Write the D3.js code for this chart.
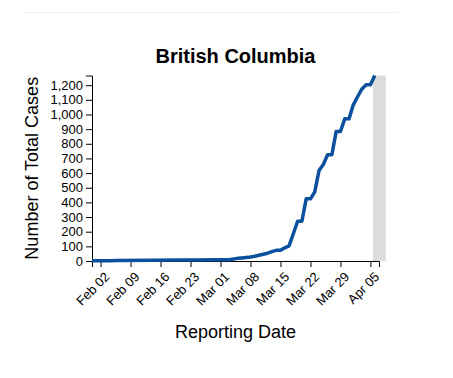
<!DOCTYPE html>
<html>
<head>
<meta charset="utf-8">
<script src="https://cdn.jsdelivr.net/npm/d3@7"></script>
<style>
  body { margin: 0; background: #fff; font-family: Arial, "Liberation Sans", sans-serif; }
  .axis text { font-size: 13px; fill: #000; font-family: Arial, "Liberation Sans", sans-serif; }
  .axis path, .axis line { stroke: #000; }
</style>
</head>
<body>
<div id="chart"></div>
<script>
// fechas y casos acumulados
const dates = [
  "2020-01-31","2020-02-04","2020-02-06","2020-02-14","2020-02-20","2020-02-24","2020-02-29",
  "2020-03-03","2020-03-04","2020-03-05","2020-03-06","2020-03-07","2020-03-08","2020-03-09",
  "2020-03-10","2020-03-11","2020-03-12","2020-03-13","2020-03-14","2020-03-15","2020-03-16",
  "2020-03-17","2020-03-18","2020-03-19","2020-03-20","2020-03-21","2020-03-22","2020-03-23",
  "2020-03-24","2020-03-25","2020-03-26","2020-03-27","2020-03-28","2020-03-29","2020-03-30",
  "2020-03-31","2020-04-01","2020-04-02","2020-04-03","2020-04-04","2020-04-05","2020-04-06"
];
const cases = [
  1, 2, 4, 5, 6, 7, 8,
  9, 13, 18, 21, 24, 27, 32,
  39, 46, 53, 64, 73, 73, 90,
  103, 186, 271, 271, 424, 424, 472,
  617, 659, 725, 725, 884, 884, 970,
  970, 1066, 1121, 1174, 1203, 1203, 1266
];
const xDomain = ["2020-01-31", "2020-04-07"];
const shade = ["2020-04-05T14:00", "2020-04-08T14:00"]; // zona gris
const yTicks = [0,100,200,300,400,500,600,700,800,900,1000,1100,1200];
const title = "British Columbia";

const parse = d3.isoParse;
const data = dates.map((d, i) => ({ date: parse(d), value: cases[i] }));

const width = 453, height = 378;
const margin = { top: 75.5, right: 74, bottom: 117, left: 92 };

const svg = d3.select("#chart")
  .append("svg")
  .attr("width", width)
  .attr("height", height);

// linea gris de arriba
svg.append("line")
  .attr("x1", 25).attr("x2", 398)
  .attr("y1", 12.5).attr("y2", 12.5)
  .attr("stroke", "#eeeeee");

const x = d3.scaleTime()
  .domain(xDomain.map(parse))
  .range([margin.left, width - margin.right]);

const y = d3.scaleLinear()
  .domain([0, d3.max(cases)])
  .range([height - margin.bottom, margin.top]);

svg.append("rect")
  .attr("x", x(parse(shade[0])))
  .attr("width", x(parse(shade[1])) - x(parse(shade[0])))
  .attr("y", y.range()[1])
  .attr("height", y.range()[0] - y.range()[1])
  .attr("fill", "#dcdcdc");

svg.append("g")
  .attr("class", "axis")
  .attr("transform", `translate(${margin.left},0)`)
  .call(d3.axisLeft(y).tickValues(yTicks).tickFormat(d3.format(",")));

svg.append("g")
  .attr("class", "axis")
  .attr("transform", `translate(0,${height - margin.bottom})`)
  .call(d3.axisBottom(x).ticks(d3.timeWeek.every(1)).tickFormat(d3.timeFormat("%b %d")))
  .selectAll("text")
  .style("text-anchor", "end")
  .attr("dx", "-0.4em")
  .attr("transform", "rotate(-45)");

const line = d3.line()
  .x(d => x(d.date))
  .y(d => y(d.value));

svg.append("path")
  .datum(data)
  .attr("fill", "none")
  .attr("stroke", "#0b509c")
  .attr("stroke-width", 3.5)
  .attr("stroke-linejoin", "round")
  .attr("d", line);

svg.append("text")
  .attr("x", (x.range()[0] + x.range()[1]) / 2)
  .attr("y", 63)
  .attr("text-anchor", "middle")
  .style("font-size", "20px")
  .style("font-weight", "bold")
  .text(title);

svg.append("text")
  .attr("x", (x.range()[0] + x.range()[1]) / 2)
  .attr("y", 338)
  .attr("text-anchor", "middle")
  .style("font-size", "18px")
  .text("Reporting Date");

svg.append("text")
  .attr("transform", `translate(38,${(y.range()[0] + y.range()[1]) / 2}) rotate(-90)`)
  .attr("text-anchor", "middle")
  .style("font-size", "18px")
  .text("Number of Total Cases");
</script>
</body>
</html>
